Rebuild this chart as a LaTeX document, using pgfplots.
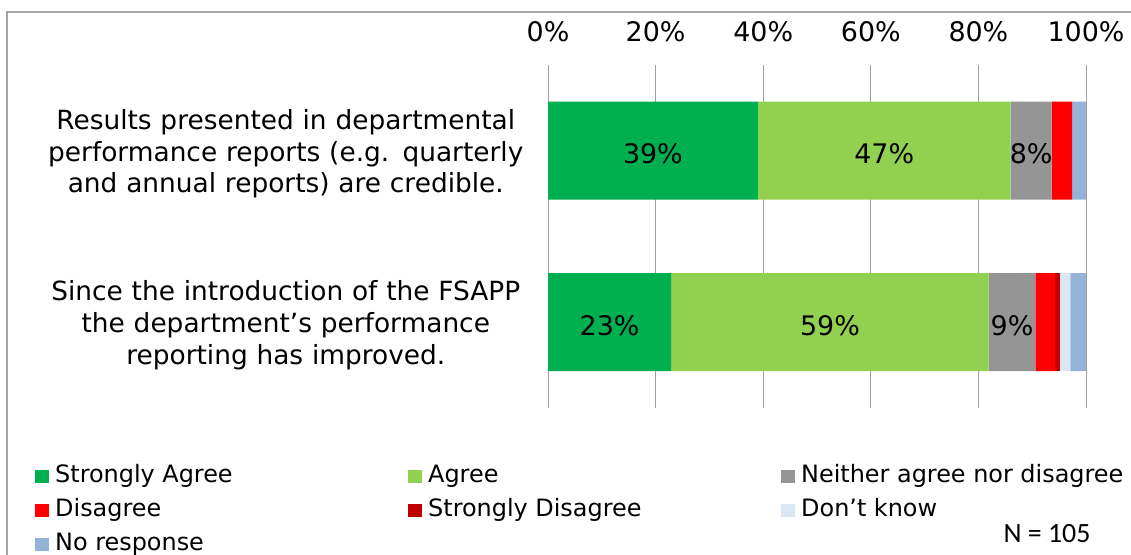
\documentclass[border=0pt]{standalone}
\usepackage{pgfplots}
\pgfplotsset{compat=1.18}
\usepackage{fontspec}
\setmainfont{DejaVu Sans}
\newfontfamily\calibri{Carlito}
\definecolor{sagree}{HTML}{00B050}
\definecolor{agree}{HTML}{92D050}
\definecolor{neither}{HTML}{959595}
\definecolor{disagree}{HTML}{FF0000}
\definecolor{sdisagree}{HTML}{C00000}
\definecolor{dknow}{HTML}{DCE6F2}
\definecolor{noresp}{HTML}{95B3D7}
\definecolor{gridgray}{HTML}{A0A0A0}
\definecolor{bordergray}{HTML}{A6A6A6}
\newcommand{\LE}[1]{\makebox[353bp][l]{#1}}
\begin{document}
\begin{tikzpicture}[x=1bp,y=1bp]
\useasboundingbox (0,0) rectangle (1131,555);
\draw[color=bordergray, line width=1.5bp] (7,0) -- (7,543) -- (1131,543);
\begin{axis}[
  at={(548bp,147bp)}, anchor=south west,
  scale only axis, width=538bp, height=343bp,
  xbar stacked, bar width=98bp,
  xmin=0, xmax=100, ymin=-0.5, ymax=1.5,
  axis line style={draw=none},
  major tick length=0pt,
  xticklabel pos=upper,
  xtick={0,20,40,60,80,100},
  xticklabels={0\%,20\%,40\%,60\%,80\%,100\%},
  xticklabel style={font=\fontsize{27}{30}\selectfont, anchor=base, yshift=23bp},
  ytick={0,1},
  yticklabels={{Since the introduction of the FSAPP\\the department’s performance\\reporting has improved.},{Results presented in departmental\\performance reports (e.g. quarterly\\and annual reports) are credible.}},
  yticklabel style={font=\fontsize{26.5}{32}\selectfont, text width=490bp, align=center, inner sep=0pt, anchor=east, xshift=-17bp, yshift=-3bp},
  xmajorgrids, grid style={gridgray, line width=1bp},
  legend columns=3,
  legend cell align=left,
  legend style={at={(-0.9535,-0.1647)}, anchor=north west, draw=none, fill=none,
    font=\fontsize{24}{28}\selectfont, inner sep=0pt, row sep=10bp,
    nodes={inner sep=0pt, text height=18bp, text depth=6bp},
    /tikz/every odd column/.style={column sep=6bp},
    /tikz/every even column/.style={column sep=0bp}},
  legend image code/.code={\fill[#1] (0bp,-6bp) rectangle (14bp,7bp);},
]
\addplot[fill=sagree, draw=none] coordinates {(22.9,0) (39,1)};
\addlegendentry{\LE{Strongly Agree}}
\addplot[fill=agree, draw=none] coordinates {(59.0,0) (47,1)};
\addlegendentry{\LE{Agree}}
\addplot[fill=neither, draw=none] coordinates {(8.7,0) (7.6,1)};
\addlegendentry{\LE{Neither agree nor disagree}}
\addplot[fill=disagree, draw=none] coordinates {(3.7,0) (3.8,1)};
\addlegendentry{\LE{Disagree}}
\addplot[fill=sdisagree, draw=none] coordinates {(0.9,0) (0,1)};
\addlegendentry{\LE{Strongly Disagree}}
\addplot[fill=dknow, draw=none] coordinates {(1.9,0) (0,1)};
\addlegendentry{\LE{Don’t know}}
\addplot[fill=noresp, draw=none] coordinates {(2.9,0) (2.6,1)};
\addlegendentry{\LE{No response}}
\end{axis}
\begin{axis}[
  at={(548bp,147bp)}, anchor=south west,
  scale only axis, width=538bp, height=343bp,
  xmin=0, xmax=100, ymin=-0.5, ymax=1.5,
  hide axis,
]
\addplot[draw=none, mark=none, nodes near coords, point meta=explicit symbolic,
  every node near coord/.append style={anchor=center, font=\fontsize{27}{30}\selectfont, yshift=-3bp}]
  coordinates {(19.5,1)[39\%] (62.5,1)[47\%] (89.8,1)[8\%]
               (11.45,0)[23\%] (52.4,0)[59\%] (86.25,0)[9\%]};
\end{axis}
\node[font=\calibri\fontsize{28}{32}\selectfont] at (1047,21) {N = 105};
\end{tikzpicture}
\end{document}
